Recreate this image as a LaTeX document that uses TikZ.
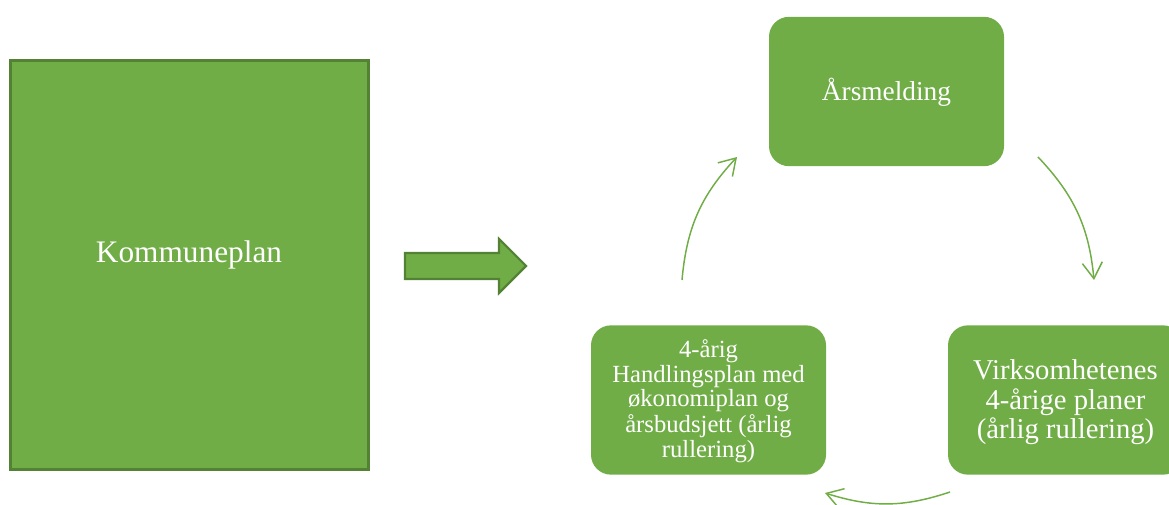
\documentclass[tikz,border=0pt]{standalone}
\usepackage{fontspec}
\setmainfont{Liberation Serif}
\usetikzlibrary{arrows.meta}
\definecolor{grn}{HTML}{70AD47}
\definecolor{grndark}{HTML}{548235}
\newcommand{\lowered}[2]{\raisebox{-#1}[\height][\depth]{\begin{tabular}{@{}c@{}}#2\end{tabular}}}
\tikzset{
  bigbox/.style={draw=grndark, line width=1.6pt, fill=grn, minimum width=268.5pt, minimum height=306.75pt, text=white, inner sep=0pt},
  cyclebox/.style={fill=grn, rounded corners=15pt, minimum width=176.25pt, minimum height=112pt, text=white, inner sep=0pt},
  blockarrow/.style={draw=grndark, line width=1.6pt, fill=grn, line join=miter},
  cyclearrow/.style={draw=grn, line width=1.1pt, -{Straight Barb[length=12pt, width=15pt, line width=1.1pt]}},
}
\begin{document}
\begin{tikzpicture}[x=0.75pt, y=-0.75pt]
\useasboundingbox (0,0) rectangle (1169,505);
\begin{scope}
\clip (0,0) rectangle (1169,505);
% left big box
\node[bigbox] (kp) at (189.5,265) {};
\node[text=white, font=\fontsize{23.5}{27}\selectfont] (kpt) at (189,255) {Kommuneplan};
% block arrow
\draw[blockarrow] (405,253) -- (499,253) -- (499,239) -- (526,266) -- (499,293) -- (499,279) -- (405,279) -- cycle;
% cycle boxes
\node[cyclebox, font=\fontsize{20.5}{22}\selectfont] (ars) at (886.5,91.5) {\lowered{1.5pt}{Årsmelding}};
\node[cyclebox, font=\fontsize{21.5}{22}\selectfont] (virk) at (1065.5,400) {\lowered{2.5pt}{Virksomhetenes\\4-årige planer\\(årlig rullering)}};
\node[cyclebox, font=\fontsize{18.5}{18.75}\selectfont] (hand) at (708.5,400) {\lowered{1.5pt}{4-årig\\Handlingsplan med\\økonomiplan og\\årsbudsjett (årlig\\rullering)}};
\end{scope}
% curved arrows
\coordinate (a1s) at (682,280);
\coordinate (a1e) at (737,157);
\coordinate (a2s) at (1038,157);
\coordinate (a2e) at (1094,280);
\coordinate (a3s) at (950,492);
\coordinate (a3e) at (825,493);
\draw[cyclearrow] (a1s) to[bend left=19] (a1e);
\draw[cyclearrow] (a2s) to[bend left=19] (a2e);
\draw[cyclearrow] (a3s) to[bend left=18] (a3e);
\end{tikzpicture}
\end{document}
